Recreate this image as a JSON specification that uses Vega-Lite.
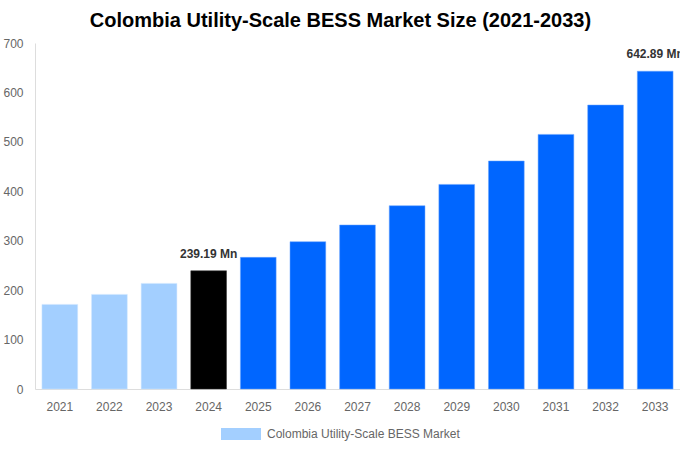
{
  "$schema": "https://vega.github.io/schema/vega-lite/v6.json",
  "width": 645,
  "height": 346,
  "autosize": "none",
  "padding": {"left": 35, "top": 43, "right": 0, "bottom": 61},
  "config": {
    "font": "Liberation Sans",
    "view": {"stroke": null}
  },
  "title": {
    "text": "Colombia Utility-Scale BESS Market Size (2021-2033)",
    "fontSize": 20,
    "fontWeight": "bold",
    "color": "#000000",
    "anchor": "middle",
    "dx": -17,
    "offset": 6
  },
  "data": {
    "values": [
      {"year": 2021, "value": 171.2, "series": "Colombia Utility-Scale BESS Market"},
      {"year": 2022, "value": 191.4, "series": "Colombia Utility-Scale BESS Market"},
      {"year": 2023, "value": 213.6, "series": "Colombia Utility-Scale BESS Market"},
      {"year": 2024, "value": 239.19, "series": "Colombia Utility-Scale BESS Market"},
      {"year": 2025, "value": 266.3, "series": "Colombia Utility-Scale BESS Market"},
      {"year": 2026, "value": 298.0, "series": "Colombia Utility-Scale BESS Market"},
      {"year": 2027, "value": 331.8, "series": "Colombia Utility-Scale BESS Market"},
      {"year": 2028, "value": 370.8, "series": "Colombia Utility-Scale BESS Market"},
      {"year": 2029, "value": 413.9, "series": "Colombia Utility-Scale BESS Market"},
      {"year": 2030, "value": 461.3, "series": "Colombia Utility-Scale BESS Market"},
      {"year": 2031, "value": 515.1, "series": "Colombia Utility-Scale BESS Market"},
      {"year": 2032, "value": 574.5, "series": "Colombia Utility-Scale BESS Market"},
      {"year": 2033, "value": 642.89, "series": "Colombia Utility-Scale BESS Market"}
    ]
  },
  "encoding": {
    "x": {
      "field": "year",
      "type": "ordinal",
      "title": null,
      "scale": {"paddingInner": 0.28, "paddingOuter": 0.14},
      "axis": {
        "labelAngle": 0,
        "ticks": false,
        "domainColor": "#dddddd",
        "labelColor": "#666666",
        "labelFontSize": 12,
        "labelPadding": 12
      }
    },
    "y": {
      "field": "value",
      "type": "quantitative",
      "title": null,
      "scale": {"domain": [0, 700]},
      "axis": {
        "values": [0, 100, 200, 300, 400, 500, 600, 700],
        "grid": false,
        "ticks": false,
        "domainColor": "#dddddd",
        "labelColor": "#666666",
        "labelFontSize": 12,
        "labelPadding": 12
      }
    }
  },
  "layer": [
    {
      "mark": {"type": "bar", "strokeWidth": 1, "strokeOpacity": 0.5},
      "encoding": {
        "color": {
          "field": "series",
          "type": "nominal",
          "scale": {"range": ["#a3cfff"]},
          "condition": [
            {"test": "datum.year == 2024", "value": "#000000"},
            {"test": "datum.year > 2024", "value": "#0066ff"}
          ],
          "legend": {
            "title": null,
            "orient": "none",
            "legendX": 186,
            "legendY": 371,
            "direction": "horizontal",
            "symbolType": "M-1,-0.3H1V0.3H-1Z",
            "symbolSize": 1600,
            "symbolStrokeWidth": 0,
            "labelColor": "#666666",
            "labelFontSize": 12,
            "labelOffset": 6,
            "labelLimit": 400
          }
        },
        "stroke": {
          "condition": [
            {"test": "datum.year == 2024", "value": "#333333"},
            {"test": "datum.year > 2024", "value": "#66a3ff"}
          ],
          "value": "#d0e7ff"
        }
      }
    },
    {
      "transform": [
        {"filter": "datum.year == 2024 || datum.year == 2033"},
        {"calculate": "format(datum.value, '.2f') + ' Mn'", "as": "label"}
      ],
      "mark": {
        "type": "text",
        "fontWeight": "bold",
        "fontSize": 12,
        "color": "#333333",
        "baseline": "bottom",
        "dy": -10
      },
      "encoding": {
        "text": {"field": "label"}
      }
    }
  ]
}
